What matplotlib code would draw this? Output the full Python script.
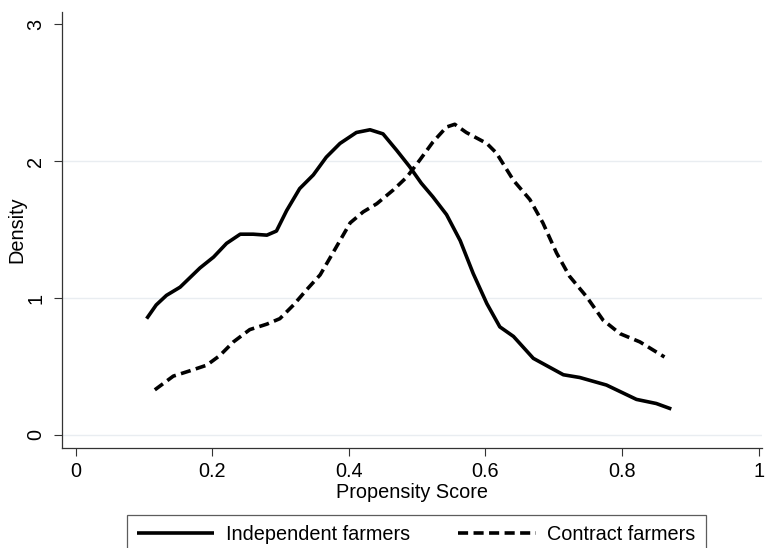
import matplotlib
matplotlib.use("Agg")
import matplotlib.pyplot as plt
import numpy as np

plt.rcParams['font.family'] = ['Liberation Sans', 'DejaVu Sans']

# Kernel density of propensity score
indep_x = [0.104, 0.118, 0.133, 0.153, 0.182, 0.202, 0.221, 0.241, 0.260, 0.280, 0.294,
           0.309, 0.328, 0.348, 0.367, 0.387, 0.411, 0.431, 0.450, 0.470, 0.489,
           0.506, 0.523, 0.543, 0.563, 0.582, 0.602, 0.621, 0.641, 0.670, 0.714,
           0.738, 0.777, 0.821, 0.850, 0.872]
indep_y = [0.85, 0.95, 1.02, 1.08, 1.22, 1.30, 1.40, 1.467, 1.467, 1.46, 1.49,
           1.64, 1.80, 1.90, 2.03, 2.13, 2.21, 2.23, 2.20, 2.08, 1.96,
           1.84, 1.74, 1.61, 1.42, 1.18, 0.96, 0.79, 0.72, 0.56, 0.44,
           0.42, 0.365, 0.26, 0.23, 0.19]

contract_x = [0.116, 0.143, 0.168, 0.192, 0.211, 0.231, 0.255, 0.280, 0.299, 0.319,
              0.338, 0.358, 0.372, 0.387, 0.402, 0.421, 0.441, 0.465, 0.485, 0.504,
              0.523, 0.543, 0.555, 0.572, 0.602, 0.616, 0.641, 0.665, 0.684, 0.704,
              0.723, 0.748, 0.772, 0.797, 0.826, 0.862]
contract_y = [0.33, 0.43, 0.47, 0.51, 0.58, 0.68, 0.77, 0.81, 0.85, 0.95,
              1.06, 1.17, 1.29, 1.42, 1.55, 1.63, 1.69, 1.79, 1.885, 2.01,
              2.14, 2.25, 2.27, 2.21, 2.13, 2.06, 1.86, 1.72, 1.55, 1.33,
              1.16, 1.01, 0.84, 0.74, 0.68, 0.57]

xticks = [0, 0.2, 0.4, 0.6, 0.8, 1]
xtick_labels = ['0', '0.2', '0.4', '0.6', '0.8', '1']
yticks = [0, 1, 2, 3]
grid_y = [0, 1, 2]

fs = 14.3

fig = plt.figure(figsize=(7.66, 5.48), dpi=100)
ax = fig.add_axes([0.081, 0.183, 0.914, 0.795])

for g in grid_y:
    ax.axhline(g, color='#e9edf1', lw=1.0, zorder=0)

ax.plot(indep_x, indep_y, color='black', lw=2.6, solid_capstyle='butt',
        solid_joinstyle='round', label='Independent farmers')
ax.plot(contract_x, contract_y, color='black', lw=2.6, dashes=(2.8, 1.5),
        dash_capstyle='butt', dash_joinstyle='round', label='Contract farmers')

ax.set_xlim(-0.0198, 1.005)
ax.set_ylim(-0.093, 3.09)

ax.set_xticks(xticks)
ax.set_xticklabels(xtick_labels)
ax.set_yticks(yticks)
ax.set_yticklabels([str(v) for v in yticks], rotation=90, va='center')

ax.tick_params(axis='both', labelsize=fs, length=6, width=0.8, color='#333333')
ax.tick_params(axis='x', pad=4)
ax.tick_params(axis='y', pad=6)

for s in ['top', 'right']:
    ax.spines[s].set_visible(False)
for s in ['left', 'bottom']:
    ax.spines[s].set_color('#333333')
    ax.spines[s].set_linewidth(0.9)

ax.set_xlabel('Propensity Score', fontsize=fs, labelpad=2)
ax.set_ylabel('Density', fontsize=fs, labelpad=0)

leg = fig.legend(loc='upper left', bbox_to_anchor=(127 / 766, (548 - 515) / 548),
                 ncol=2, fontsize=fs, frameon=True, fancybox=False,
                 handlelength=3.9, handletextpad=0.6, columnspacing=2.4,
                 borderpad=0.5, borderaxespad=0)
leg.get_frame().set_edgecolor('#333333')
leg.get_frame().set_linewidth(0.9)

plt.savefig('out.png', dpi=100)
